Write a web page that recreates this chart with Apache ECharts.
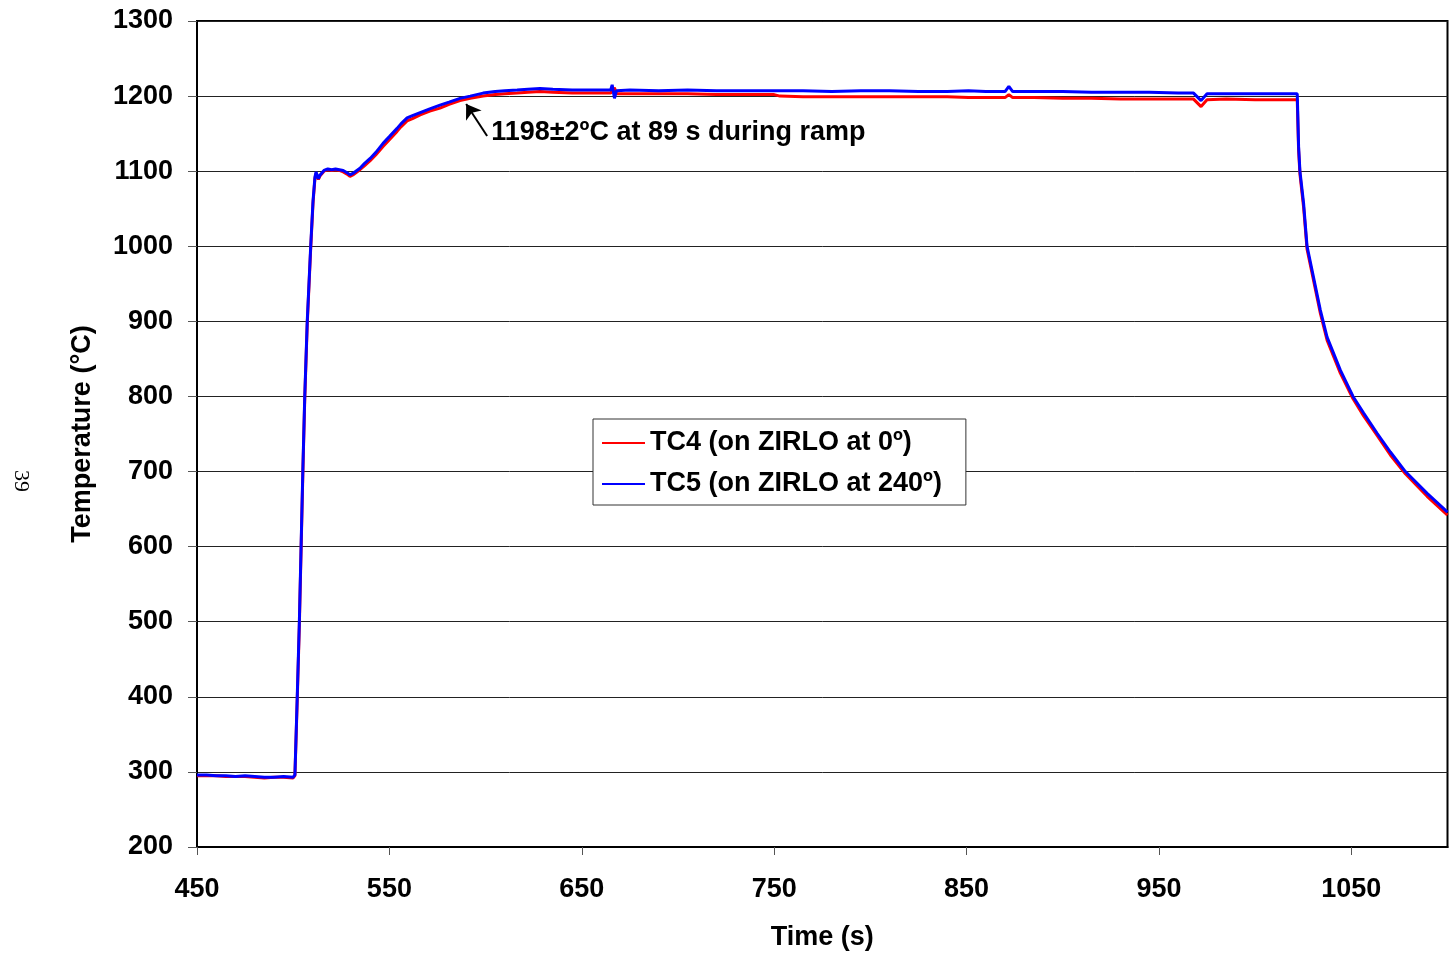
<!DOCTYPE html>
<html>
<head>
<meta charset="utf-8">
<script src="https://cdn.jsdelivr.net/npm/echarts@6/dist/echarts.min.js"></script>
<style>
html,body{margin:0;padding:0;background:#fff;}
#main{width:1452px;height:964px;}
</style>
</head>
<body>
<div id="main"></div>
<script>
// ---- data ----
const timeS = [450,455,460,465,470,475,480,485,490,495,500,500.9,502.1,503.2,504.1,505,506,507.3,509.1,510.3,511.3,511.9,513.1,514,516,518,520,522,524,526,528,529.5,531,534.7,537,540,543,546.7,550,554,556,559.2,562,566,571,576.3,581,586.7,592,598.7,605,610,616.4,622,628.3,635,645,655,665,665.8,667,668,675,690,705,720,735,750,753,765,780,795,810,825,840,851,860,870,872,874,885,900,915,930,945,960,968,971.9,975,985,1000,1010,1021.9,1022.6,1023.3,1025.2,1027,1029.6,1033.9,1037.4,1044.3,1050.9,1056.4,1063.4,1070.3,1078.1,1089.4,1100];
const tc4 = [295,295,295,294,294,294,293,292,293,293,292,295,395,495,595,695,796,896,997,1057,1090,1097,1089,1094,1100,1102,1101,1102,1101,1099,1096,1093,1095,1102,1107,1114,1122,1133,1142,1153,1159,1167,1170,1175,1180,1184,1189,1194,1197,1200,1202,1203,1204,1205,1206,1205,1204,1204,1204,1204,1211,1203,1203,1203,1203,1202,1202,1202,1200,1199,1199,1199,1199,1199,1199,1198,1198,1198,1202,1198,1198,1197,1197,1196,1196,1196,1196,1186,1195,1196,1195,1195,1195,1128,1096,1052,996,964,911,875,831,797,774,748,722,697,667,642];
const tc5 = [296,296,295,295,294,295,294,293,293,294,293,296,400,500,600,700,800,900,1000,1060,1092,1099,1090,1095,1101,1103,1102,1103,1102,1101,1098,1095,1097,1104,1110,1117,1125,1137,1146,1157,1163,1171,1174,1178,1183,1188,1192,1197,1200,1204,1206,1207,1208,1209,1210,1209,1208,1208,1208,1215,1197,1207,1208,1207,1208,1207,1207,1207,1207,1207,1206,1207,1207,1206,1206,1207,1206,1206,1213,1206,1206,1206,1205,1205,1205,1204,1204,1194,1203,1203,1203,1203,1203,1133,1100,1057,1000,968,915,879,835,800,778,751,726,700,671,646];
const seriesNames = ['TC4 (on ZIRLO at 0º)', 'TC5 (on ZIRLO at 240º)'];
const xTicks = [450,550,650,750,850,950,1050];
const yMin = 200, yMax = 1300, yStep = 100;
const xMin = 450, xMax = 1100;
const noteText = '1198±2ºC at 89 s during ramp';
const noteArrow = [[600.8, 1146.9], [589.9, 1189.5]];
const noteAnchor = [602.9, 1150.9];
const pageNumber = '39';

const FONT = '"Liberation Sans", Arial, sans-serif';
const FS = 27;
const pair = (ts, vs) => ts.map((t, i) => [t, vs[i]]);
const plain = v => String(v);

const chart = echarts.init(document.getElementById('main'), null, {renderer: 'canvas'});
chart.setOption({
  animation: false,
  backgroundColor: '#ffffff',
  textStyle: {fontFamily: FONT},
  grid: {left: 197, top: 21, right: 4.5, bottom: 117, show: true, borderColor: '#000', borderWidth: 2, backgroundColor: 'transparent', containLabel: false, outerBoundsMode: 'none'},
  legend: {
    show: true, orient: 'vertical', left: 593, top: 419,
    padding: [9, 24, 6, 9], itemGap: 11, itemWidth: 43, itemHeight: 2,
    icon: 'rect',
    backgroundColor: '#ffffff', borderColor: '#333', borderWidth: 1, borderRadius: 0,
    data: seriesNames,
    textStyle: {fontFamily: FONT, fontWeight: 'bold', fontSize: FS, color: '#000', lineHeight: 30}
  },
  xAxis: {
    type: 'value', min: xMin, max: xMax,
    name: 'Time (s)', nameLocation: 'middle', nameGap: 77,
    nameTextStyle: {fontFamily: FONT, fontWeight: 'bold', fontSize: FS, color: '#000'},
    axisLine: {show: true, lineStyle: {color: '#000', width: 2}},
    axisTick: {show: true, inside: false, length: 8, lineStyle: {color: '#555', width: 1}, customValues: xTicks},
    axisLabel: {show: true, margin: 29, fontFamily: FONT, fontWeight: 'bold', fontSize: FS, color: '#000', customValues: xTicks, formatter: plain},
    splitLine: {show: false}
  },
  yAxis: {
    type: 'value', min: yMin, max: yMax, interval: yStep,
    name: 'Temperature (°C)', nameLocation: 'middle', nameGap: 101, nameRotate: 90,
    nameTextStyle: {fontFamily: FONT, fontWeight: 'bold', fontSize: FS, color: '#000'},
    axisLine: {show: true, lineStyle: {color: '#000', width: 2}},
    axisTick: {show: true, inside: false, length: 9, lineStyle: {color: '#555', width: 1}},
    axisLabel: {show: true, margin: 24, fontFamily: FONT, fontWeight: 'bold', fontSize: FS, color: '#000', formatter: plain},
    splitLine: {show: true, lineStyle: {color: '#222', width: 1}}
  },
  series: [
    {
      name: seriesNames[0], type: 'line', data: pair(timeS, tc4),
      showSymbol: false, symbol: 'none', smooth: false, z: 3,
      lineStyle: {color: '#ff0000', width: 3}, itemStyle: {color: '#ff0000'},
      markLine: {
        silent: true, symbol: ['none', 'arrow'], symbolSize: 14,
        lineStyle: {color: '#000', width: 2, type: 'solid'},
        itemStyle: {color: '#000'},
        label: {show: false},
        data: [[{coord: noteArrow[0]}, {coord: noteArrow[1]}]]
      },
      markPoint: {
        silent: true, symbol: 'circle', symbolSize: 0,
        label: {show: true, position: 'right', distance: 0, formatter: noteText,
          fontFamily: FONT, fontWeight: 'bold', fontSize: FS, color: '#000'},
        data: [{coord: noteAnchor}]
      }
    },
    {
      name: seriesNames[1], type: 'line', data: pair(timeS, tc5),
      showSymbol: false, symbol: 'none', smooth: false, z: 4,
      lineStyle: {color: '#0000ff', width: 3}, itemStyle: {color: '#0000ff'}
    }
  ],
  graphic: [
    {type: 'text', left: 10, top: 470, rotation: -Math.PI / 2,
      style: {text: pageNumber, fontFamily: '"Liberation Serif", "Times New Roman", serif', fontSize: 22, fill: '#000'}}
  ]
});
</script>
</body>
</html>
